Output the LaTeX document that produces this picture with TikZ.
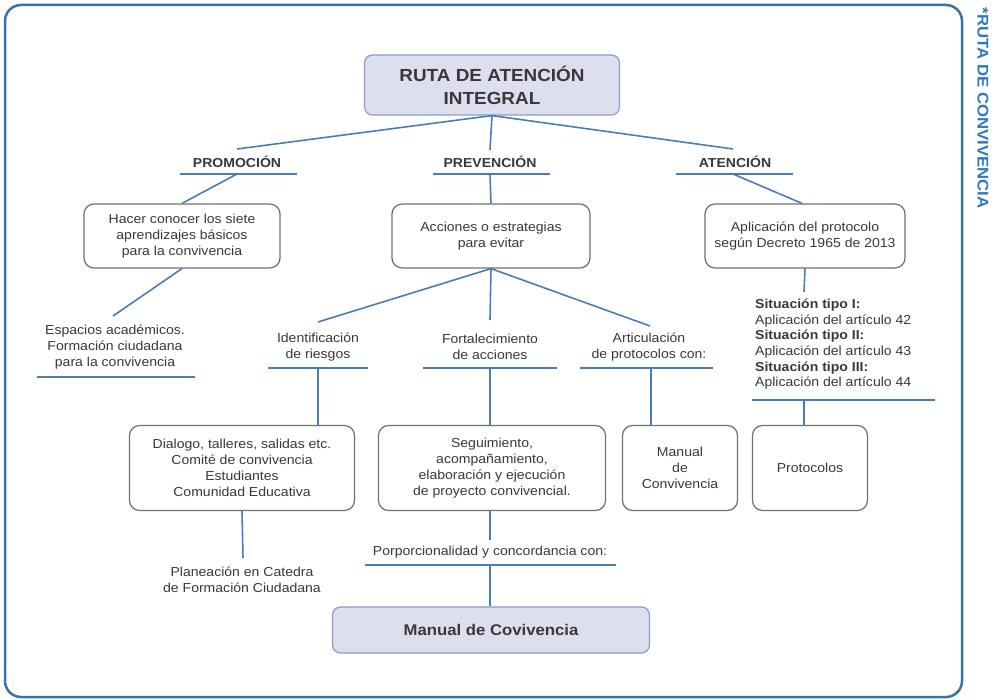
\documentclass[tikz,border=0pt]{standalone}
\usepackage{fontspec}
\setmainfont[FakeStretch=1.08]{Liberation Sans}
\definecolor{lineblue}{HTML}{4A7DB8}
\definecolor{frameblue}{HTML}{3C6FAF}
\definecolor{sideblue}{HTML}{2F78C2}
\definecolor{boxgray}{HTML}{707070}
\definecolor{txt}{HTML}{383838}
\definecolor{titlefill}{HTML}{DEDFEE}
\definecolor{titledraw}{HTML}{8A9CC8}
\begin{document}
\begin{tikzpicture}[x=1pt,y=-1pt,
  box/.style={draw=boxgray, line width=1.2pt, rounded corners=10pt, align=center, text=txt,
     font=\fontsize{13}{15.8}\selectfont, inner sep=0pt},
  titlebox/.style={draw=titledraw, fill=titlefill, line width=1.2pt, rounded corners=8pt,
     align=center, text=txt, inner sep=0pt},
  conn/.style={draw=lineblue, line width=1.6pt},
  lbl/.style={align=center, text=txt, font=\fontsize{13}{16}\selectfont, inner sep=0pt},
  head/.style={text=txt, font=\bfseries\fontsize{13}{14}\selectfont, inner sep=0pt}]
\useasboundingbox (0,0) rectangle (997,700);
% outer frame
\draw[frameblue, line width=2.5pt, rounded corners=16pt] (5,5) rectangle (962,697);
\node[rotate=-90, text=sideblue, font=\bfseries\fontsize{15.5}{16}\selectfont, inner sep=0pt] (side) at (983,108) {*RUTA DE CONVIVENCIA};

% title
\node[titlebox, minimum width=255pt, minimum height=60pt, font=\bfseries\fontsize{17.5}{23}\selectfont] (title) at (492,85) {RUTA DE ATENCIÓN\\INTEGRAL};

% headings
\node[head] (promo) at (237,162) {PROMOCIÓN};
\node[head] (prev) at (490,162) {PREVENCIÓN};
\node[head] (aten) at (735,162) {ATENCIÓN};
\coordinate (promoT) at (237,149);
\coordinate (prevT) at (490,150);
\coordinate (atenT) at (733,149);
\coordinate (promoL) at (180,174); \coordinate (promoR) at (297,174); \coordinate (promoU) at (237,174);
\coordinate (prevL) at (433,174); \coordinate (prevR) at (550,174); \coordinate (prevU) at (490,174);
\coordinate (atenL) at (676,174); \coordinate (atenR) at (793,174); \coordinate (atenU) at (733,174);
\draw[conn] (promoL) -- (promoR);
\draw[conn] (prevL) -- (prevR);
\draw[conn] (atenL) -- (atenR);
\draw[conn] (title.south) -- (promoT);
\draw[conn] (title.south) -- (prevT);
\draw[conn] (title.south) -- (atenT);

% level 2 boxes
\node[box, minimum width=196pt, minimum height=64pt] (hacer) at (182,236) {Hacer conocer los siete\\aprendizajes básicos\\para la convivencia};
\node[box, minimum width=198pt, minimum height=64pt] (acc) at (491,236) {Acciones o estrategias\\para evitar};
\node[box, minimum width=200pt, minimum height=64pt] (apl) at (805,236) {Aplicación del protocolo\\según Decreto 1965 de 2013};
\draw[conn] (promoU) -- (hacer.north);
\draw[conn] (prevU) -- (acc.north);
\draw[conn] (atenU) -- ([xshift=-3pt]apl.north);

% promocion branch
\coordinate (espT) at (113,316);
\draw[conn] (hacer.south) -- (espT);
\node[lbl] (esp) at (115,347) {Espacios académicos.\\Formación ciudadana\\para la convivencia};
\coordinate (espL) at (37,377); \coordinate (espR) at (195,377);
\draw[conn] (espL) -- (espR);

% prevencion branch
\coordinate (idT) at (318,322);
\coordinate (forT) at (490,320);
\coordinate (artT) at (650,326);
\draw[conn] (acc.south) -- (idT);
\draw[conn] (acc.south) -- (forT);
\draw[conn] (acc.south) -- (artT);
\node[lbl] (id) at (318,347) {Identificación\\de riesgos};
\node[lbl] (for) at (490,347) {Fortalecimiento\\de acciones};
\node[lbl] (art) at (649,347) {Articulación\\de protocolos con:};
\coordinate (idL) at (268,368); \coordinate (idR) at (368,368); \coordinate (idU) at (318,368);
\coordinate (forL) at (423,368); \coordinate (forR) at (557,368); \coordinate (forU) at (490,368);
\coordinate (artL) at (580,368); \coordinate (artR) at (713,368); \coordinate (artU) at (651,368);
\draw[conn] (idL) -- (idR);
\draw[conn] (forL) -- (forR);
\draw[conn] (artL) -- (artR);

% atencion branch
\coordinate (aplB) at (804,292);
\draw[conn] (apl.south) -- (aplB);
\node[anchor=north west, align=left, text=txt, font=\fontsize{13}{15.6}\selectfont, inner sep=0pt] (sit) at (755,299)
  {\textbf{Situación tipo I:}\\Aplicación del artículo 42\\\textbf{Situación tipo II:}\\Aplicación del artículo 43\\\textbf{Situación tipo III:}\\Aplicación del artículo 44};
\coordinate (sitL) at (752,400); \coordinate (sitR) at (935,400); \coordinate (sitU) at (804,400);
\draw[conn] (sitL) -- (sitR);

% level 4 boxes
\node[box, minimum width=225pt, minimum height=85pt] (dia) at (242,468) {Dialogo, talleres, salidas etc.\\Comité de convivencia\\Estudiantes\\Comunidad Educativa};
\node[box, minimum width=227pt, minimum height=85pt] (seg) at (492,468) {Seguimiento,\\acompañamiento,\\elaboración y ejecución\\de proyecto convivencial.};
\node[box, minimum width=115pt, minimum height=85pt] (man) at (680,468) {Manual\\de\\Convivencia};
\node[box, minimum width=115pt, minimum height=85pt] (pro) at (810,468) {Protocolos};
\draw[conn] (idU) -- (idU |- dia.north);
\draw[conn] (forU) -- (forU |- seg.north);
\draw[conn] (artU) -- (artU |- man.north);
\draw[conn] (sitU) -- (sitU |- pro.north);

% bottom
\coordinate (planT) at (243,558);
\draw[conn] (dia.south) -- (planT);
\node[lbl] (plan) at (242,580) {Planeación en Catedra\\de Formación Ciudadana};
\coordinate (porT) at (490,540);
\draw[conn] (seg.south -| porT) -- (porT);
\node[lbl] (por) at (490,552) {Porporcionalidad y concordancia con:};
\coordinate (porL) at (365,565); \coordinate (porR) at (616,565); \coordinate (porU) at (490,565);
\draw[conn] (porL) -- (porR);
\node[titlebox, minimum width=317pt, minimum height=46pt, font=\bfseries\fontsize{15.5}{17}\selectfont] (mc) at (491,630) {Manual de Covivencia};
\draw[conn] (porU) -- (porU |- mc.north);
\end{tikzpicture}
\end{document}
